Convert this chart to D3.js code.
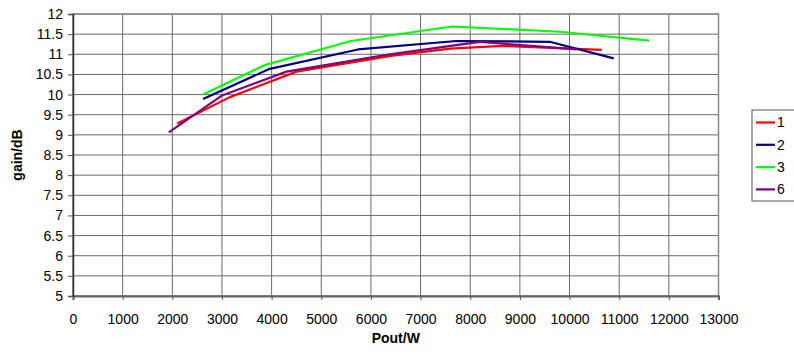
<!DOCTYPE html>
<html lang="en">
<head>
    <meta charset="utf-8">
    <title>gain vs Pout</title>
    <style type="text/css">
        body { margin: 0; background: #fff; }
        svg { display: block; font-family: "Liberation Sans", Arial, sans-serif; }
    </style>
</head>
<body>
   <svg class="svg_chart" width="794" height="354"></svg>

   <script src="https://cdn.jsdelivr.net/npm/d3@7"></script>
   <script>
        // data
        var seriesNames = ['1', '2', '3', '6'];
        var seriesColors = ['#ff0000', '#000080', '#00ff00', '#800080'];

        var pout1 = [2100, 3150, 4500, 6400, 7600, 8650, 10650];
        var gain1 = [9.28, 9.93, 10.57, 10.96, 11.14, 11.21, 11.11];

        var pout2 = [2620, 3940, 5740, 7720, 9600, 10890];
        var gain2 = [9.89, 10.63, 11.12, 11.33, 11.31, 10.90];

        var pout3 = [2620, 3860, 5600, 7640, 9800, 11600];
        var gain3 = [10.0, 10.73, 11.33, 11.69, 11.56, 11.34];

        var pout6 = [1930, 2990, 4300, 6380, 8190, 10150];
        var gain6 = [9.06, 9.97, 10.57, 11.0, 11.31, 11.12];

        var xTicks = d3.range(0, 13001, 1000);
        var yTicks = d3.range(5, 12.01, 0.5);

        var allPout = [pout1, pout2, pout3, pout6];
        var allGain = [gain1, gain2, gain3, gain6];

        var svg = d3.select('.svg_chart'),
            padding = {top: 14, right: 75.5, bottom: 58, left: 73},
            width = +svg.attr('width'),
            height = +svg.attr('height'),
            plot_w = width - padding.left - padding.right,
            plot_h = height - padding.top - padding.bottom;

        var g = svg.append('g')
                    .attr('transform', 'translate(' + padding.left + ',' + padding.top + ')');

        // scales
        var x = d3.scaleLinear().domain([0, 13000]).range([0, plot_w]);
        var y = d3.scaleLinear().domain([5, 12]).range([plot_h, 0]);

        // grid
        g.append('g')
            .selectAll('line')
            .data(xTicks)
            .enter()
            .append('line')
            .attr('x1', function(d) { return x(d); })
            .attr('x2', function(d) { return x(d); })
            .attr('y1', 0)
            .attr('y2', plot_h)
            .attr('stroke', '#6a6a6a')
            .attr('stroke-width', 1);

        g.append('g')
            .selectAll('line')
            .data(yTicks)
            .enter()
            .append('line')
            .attr('x1', 0)
            .attr('x2', plot_w)
            .attr('y1', function(d) { return y(d); })
            .attr('y2', function(d) { return y(d); })
            .attr('stroke', '#6a6a6a')
            .attr('stroke-width', 1);

        // plot border
        g.append('rect')
            .attr('width', plot_w)
            .attr('height', plot_h)
            .attr('fill', 'none')
            .attr('stroke', '#888')
            .attr('stroke-width', 1.5);

        // axes
        var xAxis = g.append('g')
            .attr('transform', 'translate(0,' + plot_h + ')')
            .call(d3.axisBottom(x).tickValues(xTicks).tickSize(4).tickPadding(14).tickFormat(d3.format('d')));

        var yAxis = g.append('g')
            .call(d3.axisLeft(y).tickValues(yTicks).tickSize(5).tickPadding(5).tickFormat(function(d) { return d; }));

        [xAxis, yAxis].forEach(function(a) {
            a.selectAll('text').attr('font-size', 14).attr('fill', '#000')
                .attr('font-family', '"Liberation Sans", Arial, sans-serif');
            a.selectAll('line').attr('stroke', '#555');
        });
        xAxis.select('.domain').attr('stroke', '#666').attr('stroke-width', 2);
        yAxis.select('.domain').attr('stroke', '#333').attr('stroke-width', 1.5);

        // lines
        var line = d3.line()
            .x(function(d) { return x(d[0]); })
            .y(function(d) { return y(d[1]); });

        allPout.forEach(function(p, i) {
            var pts = p.map(function(v, j) { return [v, allGain[i][j]]; });
            g.append('path')
                .datum(pts)
                .attr('d', line)
                .attr('fill', 'none')
                .attr('stroke', seriesColors[i])
                .attr('stroke-width', 2.2)
                .attr('stroke-linejoin', 'round');
        });

        // axis titles
        svg.append('text')
            .attr('transform', 'translate(22,' + (padding.top + plot_h / 2) + ') rotate(-90)')
            .attr('text-anchor', 'middle')
            .attr('font-size', 14)
            .attr('font-weight', 'bold')
            .text('gain/dB');

        svg.append('text')
            .attr('x', padding.left + plot_w / 2)
            .attr('y', 343)
            .attr('text-anchor', 'middle')
            .attr('font-size', 14)
            .attr('font-weight', 'bold')
            .text('Pout/W');

        // legend
        var legend = svg.append('g').attr('transform', 'translate(752,110)');
        legend.append('rect')
            .attr('width', 60)
            .attr('height', 91)
            .attr('fill', '#fff')
            .attr('stroke', '#555')
            .attr('stroke-width', 1);

        var item = legend.selectAll('.item')
            .data(seriesNames)
            .enter()
            .append('g')
            .attr('transform', function(d, i) { return 'translate(0,' + (12.5 + i * 22.3) + ')'; });

        item.append('line')
            .attr('x1', 4).attr('x2', 23)
            .attr('stroke', function(d, i) { return seriesColors[i]; })
            .attr('stroke-width', 2.2);

        item.append('text')
            .attr('x', 25)
            .attr('dy', '0.35em')
            .attr('font-size', 14)
            .text(function(d) { return d; });
   </script>
</body>
</html>
